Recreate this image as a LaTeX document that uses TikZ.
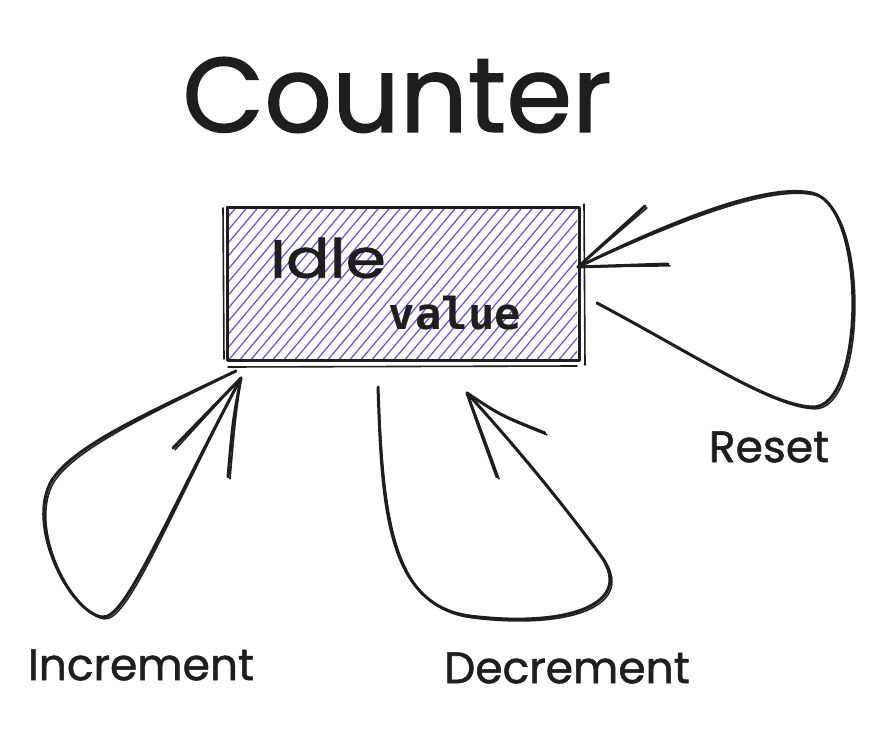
\documentclass[tikz,border=0pt]{standalone}
\usepackage{fontspec}
\usepackage{graphicx}
\setmainfont{Poppins}[FakeBold=1.2]
\newfontfamily\codefont{DejaVu Sans Mono}
\definecolor{ink}{HTML}{1E1E1E}
\definecolor{violet}{HTML}{7048E8}
\tikzset{
  stroke/.style={draw=ink, line width=3pt, line cap=round, line join=round},
  thin stroke/.style={draw=ink, line width=1.6pt, line cap=round, line join=round},
  lbl/.style={inner sep=0pt, text=ink, font=\fontsize{44}{48}\selectfont},
  statebox/.style={stroke, rectangle, minimum width=352pt, minimum height=153pt, inner sep=0pt, anchor=north west},
}
\newcommand\skdraw[1]{\draw[stroke] #1; \draw[thin stroke, shift={(2,1.8)}] #1;}
\begin{document}
\begin{tikzpicture}[x=1pt,y=-1pt]
\useasboundingbox (0,0) rectangle (888,730);
\fill[white] (0,0) rectangle (888,730);

% title
\node[inner sep=0pt, text=ink, font=\fontsize{106}{110}\selectfont] (title) at (397,95) {Counter};

% hatch fill
\begin{scope}
\clip (226,206) rectangle (577,358);
\foreach \c in {40,51,...,600} {
  \draw[violet, line width=1.2pt] (\c,362) -- ++(160,-190);
}
\end{scope}

% state box
\node[statebox] (idle) at (226,206) {};
\draw[thin stroke] ([xshift=2pt,yshift=-5pt]idle.south west) -- ([xshift=-4pt,yshift=-4pt]idle.south east);
\draw[thin stroke] ([xshift=-3pt,yshift=-2pt]idle.north west) -- ([xshift=-2pt,yshift=3pt]idle.south west);
\draw[thin stroke] ([xshift=3pt,yshift=2pt]idle.north east) -- ([xshift=4pt,yshift=-3pt]idle.south east);

\node[inner sep=0pt, text=ink, font=\fontsize{54}{58}\selectfont] (idletxt) at (328,258) {\scalebox{1.2}[1]{Idle}};
\node[inner sep=0pt, text=ink, font=\codefont\bfseries\fontsize{44}{48}\selectfont] (valuetxt) at (455,313) {value};

% connector end points
\coordinate (rs) at (597,303);
\coordinate (rt) at (578,267);
\coordinate (is) at (236,371);
\coordinate (it) at (241,378);
\coordinate (ds) at (378,387);
\coordinate (dt) at (467,393);

% Reset loop
\skdraw{(rs) .. controls (700,358) and (770,405) .. (812,407) .. controls (865,410) and (868,205) .. (812,193) .. controls (760,182) and (650,232) .. (rt)}
\skdraw{(rt) -- (645,206)}
\skdraw{(rt) -- (668,264)}

% Increment loop
\skdraw{(is) .. controls (150,412) and (75,445) .. (52,480) .. controls (25,525) and (70,612) .. (102,617) .. controls (125,620) and (160,530) .. (it)}
\skdraw{(it) -- (173,448)}
\skdraw{(it) .. controls (233,420) .. (228,477)}

% Decrement loop
\skdraw{(ds) .. controls (382,500) and (385,605) .. (470,616) .. controls (565,628) and (640,605) .. (598,552) .. controls (560,500) and (510,440) .. (dt)}
\skdraw{(dt) .. controls (500,415) .. (545,433)}
\skdraw{(dt) .. controls (480,430) .. (497,477)}

% labels
\node[lbl] (reset) at (769,447) {Reset};
\node[lbl] (inc) at (141,665) {Increment};
\node[lbl] (dec) at (567,668) {Decrement};
\end{tikzpicture}
\end{document}
